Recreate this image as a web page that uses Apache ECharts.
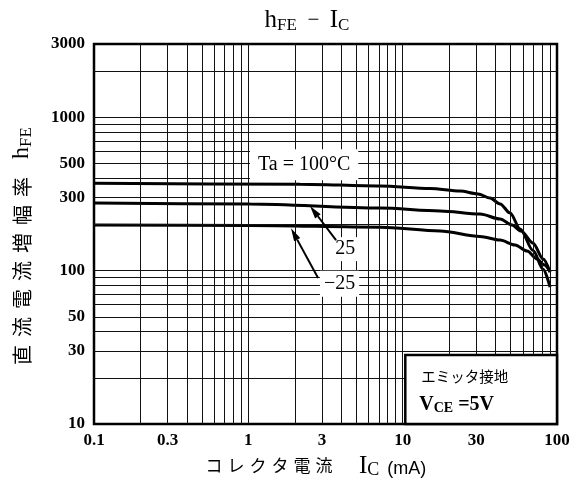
<!DOCTYPE html>
<html><head><meta charset="utf-8">
<script src="https://cdn.jsdelivr.net/npm/echarts@6/dist/echarts.min.js"></script>
<style>html,body{margin:0;padding:0;background:#fff}#c{width:573px;height:490px}</style>
</head><body><div id="c"></div>
<script>
// ---- data ----
const xTickLabels = [0.1, 0.3, 1, 3, 10, 30, 100];
const yTickLabels = [10, 30, 50, 100, 300, 500, 1000, 3000];
const xGrid = [0.2,0.3,0.4,0.5,0.6,0.7,0.8,0.9,1,2,3,4,5,6,7,8,9,10,20,30,40,50,60,70,80,90];
const yGrid = [20,30,40,50,60,70,80,90,100,200,300,400,500,600,700,800,900,1000,2000];

const ic100  = [0.1, 2.16, 7.14, 15.05, 23.55, 30.8, 36.85, 42.8, 49.7, 57.7, 70, 81.3, 90.2];
const hfe100 = [371, 366, 356, 343, 330, 316, 297, 272, 237, 187, 135, 102, 78];
const ic25   = [0.1, 1.03, 7.14, 17.5, 31.7, 42.8, 51.2, 58.5, 70, 81.3, 90.2];
const hfe25  = [276, 272, 256, 245, 234, 217, 198, 181, 151, 119, 98];
const icM25  = [0.1, 1.03, 7.14, 17.5, 31.7, 42.8, 53.5, 64, 74.3, 82.5, 90.2];
const hfeM25 = [198, 197, 192, 181, 167, 158, 147, 134, 119, 109, 98];

const seriesNames = ['Ta = 100°C', '25', '−25'];

// ---- chart ----
const serif = "'Liberation Serif','DejaVu Serif',serif";
const cjk = "'Noto Sans CJK JP',sans-serif";
const sans = "'Liberation Sans','DejaVu Sans',sans-serif";
const fmt = v => String(+(+v).toPrecision(6));
const pair = (xs, ys) => xs.map((x, i) => [x, ys[i]]);

const chart = echarts.init(document.getElementById('c'));
const curveStyle = { color: '#000', width: 3 };
const curve = (name, xs, ys) => ({ name, type: 'line', data: pair(xs, ys), smooth: 0.3, smoothMonotone: 'x', symbol: 'none', lineStyle: curveStyle, z: 3 });
chart.setOption({
  animation: false,
  backgroundColor: '#fff',
  grid: { left: 94, right: 16, top: 44, bottom: 66, show: true, borderColor: '#000', borderWidth: 2.5 },
  xAxis: {
    type: 'log', logBase: 10, min: 0.1, max: 100,
    axisLine: { show: false }, axisTick: { show: false }, splitLine: { show: false },
    axisLabel: { customValues: xTickLabels, formatter: fmt, fontFamily: serif, fontWeight: 'bold', fontSize: 17, color: '#000', margin: 8 }
  },
  yAxis: {
    type: 'log', logBase: 10, min: 10, max: 3000,
    axisLine: { show: false }, axisTick: { show: false }, splitLine: { show: false },
    axisLabel: { customValues: yTickLabels, formatter: fmt, fontFamily: serif, fontWeight: 'bold', fontSize: 17, color: '#000', margin: 9 }
  },
  series: [
    {
      type: 'line', data: [], z: 1, silent: true,
      markLine: {
        silent: true, symbol: 'none', label: { show: false }, animation: false,
        lineStyle: { color: '#111', width: 1, type: 'solid' },
        emphasis: { disabled: true },
        data: xGrid.map(v => ({ xAxis: v })).concat(yGrid.map(v => ({ yAxis: v })))
      }
    },
    curve(seriesNames[0], ic100, hfe100),
    curve(seriesNames[1], ic25, hfe25),
    curve(seriesNames[2], icM25, hfeM25)
  ]
});

const P = (x, y) => chart.convertToPixel({ gridIndex: 0 }, [x, y]);

function arrow(t, h) {
  const dx = h[0] - t[0], dy = h[1] - t[1], L = Math.hypot(dx, dy);
  const ux = dx / L, uy = dy / L, hl = 13, hw = 3.5;
  const bx = h[0] - ux * hl, by = h[1] - uy * hl;
  return [
    { type: 'line', z: 120, shape: { x1: t[0], y1: t[1], x2: bx, y2: by }, style: { stroke: '#000', lineWidth: 2 } },
    { type: 'polygon', z: 120, shape: { points: [[h[0], h[1]], [bx - uy * hw, by + ux * hw], [bx + uy * hw, by - ux * hw]] }, style: { fill: '#000' } }
  ];
}

const taPos = P(2.3, 490);
const l25 = P(4.25, 138);
const lm25 = P(3.9, 82);
const boxTL = P(10.4, 28.2), boxBR = P(100, 10);

const graphics = [
  // title
  { type: 'text', z: 100, x: 307, y: 20, style: {
      text: '{h|h}{s|FE}{m|  −  }{h|I}{s|C}', align: 'center', verticalAlign: 'middle',
      rich: { h: { fontFamily: serif, fontSize: 25, fill: '#000' }, s: { fontFamily: serif, fontSize: 17, fill: '#000', padding: [11, 0, 0, 0] }, m: { fontFamily: serif, fontSize: 21, fill: '#000' } } } },
  // y name
  { type: 'text', z: 100, x: 22, y: 248, rotation: Math.PI / 2, style: {
      text: '{c|直}{c|流}{c|電}{c|流}{c|増}{c|幅}{c|率}{sp| }{h|h}{s|FE}', align: 'center', verticalAlign: 'middle',
      rich: { c: { fontFamily: cjk, fontSize: 20, fill: '#000', padding: [0, 4, 0, 4] }, sp: { fontSize: 12, width: 14 }, h: { fontFamily: serif, fontSize: 24, fill: '#000' }, s: { fontFamily: serif, fontSize: 17, fill: '#000', padding: [10, 0, 0, 0] } } } },
  // x name
  { type: 'text', z: 100, x: 203, y: 466, style: {
      text: '{c|コ}{c|レ}{c|ク}{c|タ}{c|電}{c|流}{sp| }{h|I}{s|C}{sp2| }{u|(mA)}', align: 'left', verticalAlign: 'middle',
      rich: { c: { fontFamily: cjk, fontSize: 17, fill: '#000', padding: [0, 2.5, 0, 2.5] }, sp: { fontSize: 12, width: 24 }, sp2: { fontSize: 12, width: 8 }, h: { fontFamily: serif, fontSize: 25, fill: '#000' }, s: { fontFamily: serif, fontSize: 18, fill: '#000', padding: [9, 0, 0, 0] }, u: { fontFamily: sans, fontSize: 18, fill: '#000', padding: [6, 0, 0, 0] } } } },
  // Ta label
  { type: 'text', z: 100, x: taPos[0], y: taPos[1], style: {
      text: seriesNames[0], align: 'center', verticalAlign: 'middle', fontFamily: serif, fontSize: 20, fill: '#000', backgroundColor: '#fff', padding: [6, 8, 5, 8] } },
  { type: 'text', z: 100, x: l25[0], y: l25[1], style: {
      text: seriesNames[1], align: 'center', verticalAlign: 'middle', fontFamily: serif, fontSize: 20, fill: '#000', backgroundColor: '#fff', padding: [2, 3, 2, 3] } },
  { type: 'text', z: 100, x: lm25[0], y: lm25[1], style: {
      text: seriesNames[2], align: 'center', verticalAlign: 'middle', fontFamily: serif, fontSize: 20, fill: '#000', backgroundColor: '#fff', padding: [3, 4, 3, 4] } },
  // condition box
  { type: 'rect', z: 100, shape: { x: boxTL[0], y: boxTL[1], width: boxBR[0] - boxTL[0], height: boxBR[1] - boxTL[1] }, style: { fill: '#fff', stroke: '#000', lineWidth: 2.5 } },
  { type: 'text', z: 101, x: boxTL[0] + 16, y: boxTL[1] + 22, style: {
      text: 'エミッタ接地', align: 'left', verticalAlign: 'middle', fontFamily: cjk, fontSize: 14.5, fill: '#000' } },
  { type: 'text', z: 101, x: boxTL[0] + 14, y: boxTL[1] + 50, style: {
      text: '{h|V}{s|CE}{h| =5V}', align: 'left', verticalAlign: 'middle',
      rich: { h: { fontFamily: serif, fontSize: 20, fontWeight: 'bold', fill: '#000' }, s: { fontFamily: serif, fontSize: 14, fontWeight: 'bold', fill: '#000', padding: [7, 0, 0, 0] } } } }
].concat(arrow(P(3.7, 158), P(2.51, 264)), arrow(P(2.83, 89.4), P(1.89, 189)));

chart.setOption({ graphic: graphics });
</script>
</body></html>
